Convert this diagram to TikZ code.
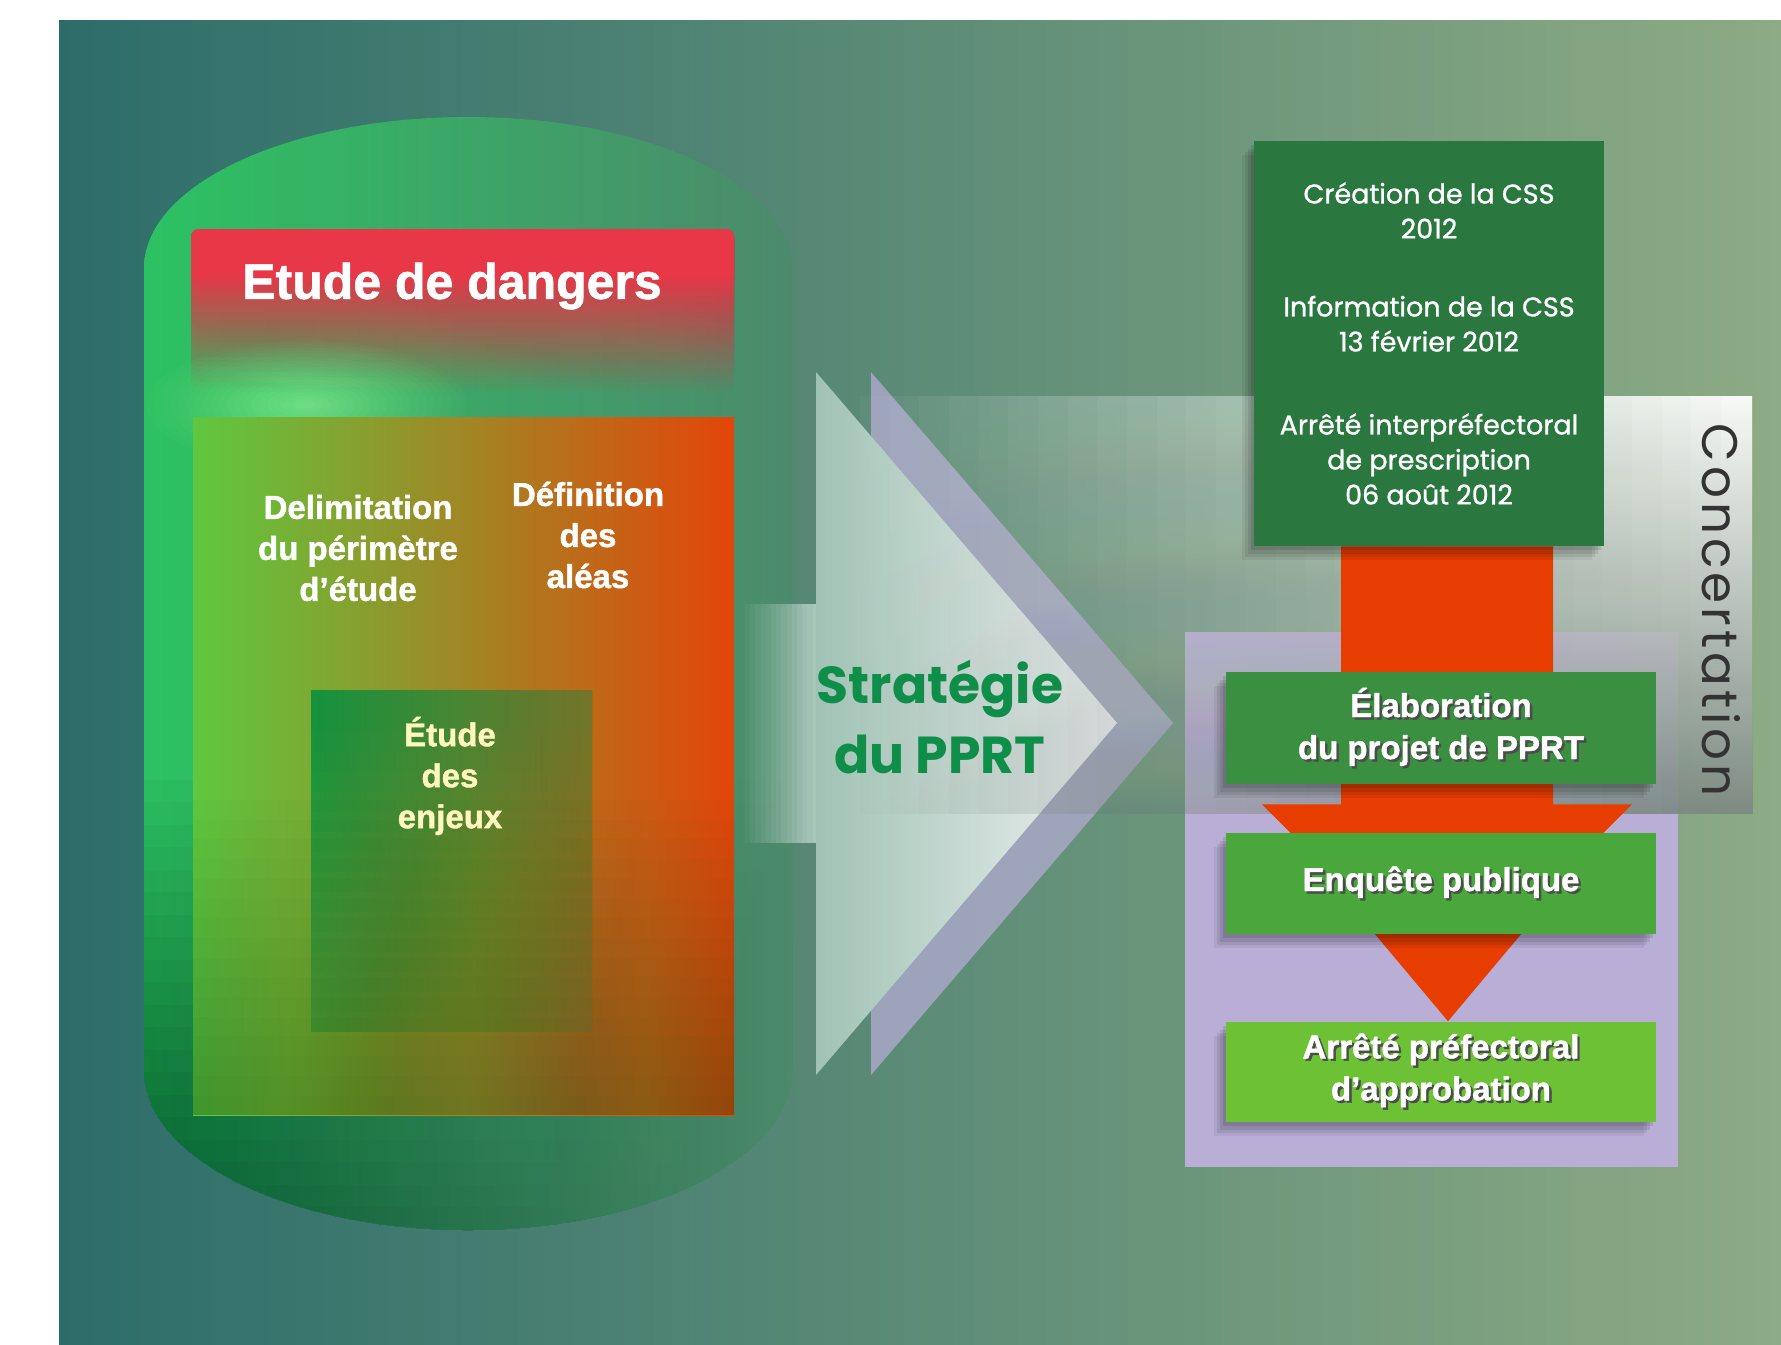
\documentclass[tikz,border=0pt]{standalone}
\usepackage{fontspec}
\setmainfont{Liberation Sans}
\newfontfamily\heavyfont[BoldFeatures={FakeBold=1.3}]{Liberation Sans}
\newfontfamily\geofont{Poppins}
\newfontfamily\cssfont[FakeBold=1]{Poppins}
\newfontfamily\concfont[LetterSpace=8]{Poppins}
\usetikzlibrary{calc,positioning,shadows}

\definecolor{bgleft}{HTML}{2C6D6A}
\definecolor{bgright}{HTML}{8DAB84}
\definecolor{capgreen}{HTML}{2CC262}
\definecolor{capright}{HTML}{4C8A6C}
\definecolor{capdark}{HTML}{00562A}
\definecolor{dangred}{HTML}{E83848}
\definecolor{glowgreen}{HTML}{7CEC8E}
\definecolor{boxleft}{HTML}{5EC83F}
\definecolor{boxmid}{HTML}{A08A28}
\definecolor{boxright}{HTML}{E3450A}
\definecolor{boxdark}{HTML}{1E5A20}
\definecolor{enjleft}{HTML}{0A9242}
\definecolor{enjright}{HTML}{6C7A2E}
\definecolor{enjtext}{HTML}{FFF7BE}
\definecolor{tribackc}{HTML}{A9A8C6}
\definecolor{triface}{HTML}{B4D0C4}
\definecolor{trileft}{HTML}{A0C2B4}
\definecolor{triright}{HTML}{F0F2F3}
\definecolor{stratgreen}{HTML}{0E8E48}
\definecolor{lavender}{HTML}{B9AED6}
\definecolor{bandlow}{HTML}{7D8A84}
\definecolor{conctext}{HTML}{333333}
\definecolor{cssgreen}{HTML}{2A783F}
\definecolor{flow}{HTML}{E73D00}
\definecolor{elabgreen}{HTML}{3A9040}
\definecolor{enqgreen}{HTML}{4AA73C}
\definecolor{arrgreen}{HTML}{6CC234}

\pgfdeclarelayer{front}
\pgfsetlayers{main,front}

\tikzset{
  titletxt/.style  = {text=white, font=\heavyfont\bfseries\fontsize{25}{30}\selectfont},
  zonetxt/.style   = {text=white, font=\heavyfont\bfseries\fontsize{16.5}{20.5}\selectfont, align=center},
  strattxt/.style  = {text=stratgreen, font=\geofont\bfseries\fontsize{26}{35}\selectfont, align=center},
  boxshadow/.style = {drop shadow={shadow xshift=-1.5pt, shadow yshift=-2pt, fill=black, opacity=.10},
                      drop shadow={shadow xshift=-3pt, shadow yshift=-4pt, fill=black, opacity=.09},
                      drop shadow={shadow xshift=-4.5pt, shadow yshift=-5.5pt, fill=black, opacity=.08},
                      drop shadow={shadow xshift=-6pt, shadow yshift=-7pt, fill=black, opacity=.06}},
  cssbox/.style    = {boxshadow, fill=cssgreen, text=white, minimum width=175pt, minimum height=202.5pt,
                      inner sep=0pt, align=center, font=\cssfont\fontsize{13.5}{17.5}\selectfont},
  stepbox/.style   = {boxshadow, text=white, minimum width=215pt, inner sep=0pt, align=center,
                      font=\heavyfont\bfseries\fontsize{16.5}{21}\selectfont},
  conctxt/.style   = {text=conctext, font=\concfont\fontsize{25}{25}\selectfont},
  flowarrow/.style = {fill=flow, draw=none},
}

\newcommand\shtxt[1]{\leavevmode\rlap{\kern1.2pt\raisebox{-1.2pt}{\color{black!70}#1}}#1}
\newcommand\capsulepath{(144,268) -- (144,1070)
  arc[start angle=180, end angle=0, x radius=324, y radius=160] -- (792,268)
  arc[start angle=0, end angle=-180, x radius=324, y radius=151] -- cycle}

\begin{document}
\begin{tikzpicture}[x=0.5pt, y=-0.5pt]
\useasboundingbox (0,0) rectangle (1781,1344);
\fill[white] (0,0) rectangle (1781,1344);
\shade[left color=bgleft, right color=bgright] (59,20) rectangle (1781,1344);

% capsule
\shade[left color=capgreen, right color=capright] \capsulepath;
\begin{scope}
  \clip \capsulepath;
  \foreach \s [evaluate=\s as \op using {.9/(20-.9*(\s-1))}] in {1,...,20}
    \shade[left color=capdark, middle color=capdark!70!capright, right color=capright, opacity=\op]
      (144,{780+(\s-1)*22.5}) rectangle (793,1232);
  \foreach \s [evaluate=\s as \op using {1/(25-\s)}] in {1,...,24}
    \fill[dangred, rounded corners=4pt, opacity=\op] (191,229) rectangle (734,{392-(\s-1)*5});
  \foreach \s [evaluate=\s as \op using {.8/(20-.8*(\s-1))},
               evaluate=\s as \rx using {8*(21-\s)}, evaluate=\s as \ry using {3.2*(21-\s)}] in {1,...,20}
    \fill[glowgreen, opacity=\op] (307,405) ellipse [x radius=\rx, y radius=\ry];
\end{scope}
\shade[left color=boxleft, middle color=boxmid, right color=boxright] (193,417) rectangle (734,1115);
\shade[left color=enjleft, right color=enjright, opacity=.35] (311,690) rectangle (592,1031);
\foreach \s [evaluate=\s as \op using {.8/(16-.8*(\s-1))}] in {1,...,16}
  \shade[left color=enjleft, right color=enjright, opacity=\op] (311,690) rectangle (592,{1031-(\s-1)*20});
\foreach \s [evaluate=\s as \op using {.35/(16-.35*(\s-1))}] in {1,...,16}
  \fill[boxdark, opacity=\op] (193,{800+(\s-1)*19.7}) rectangle (734,1115);

% arrow and band
\fill[lavender] (1185,632) rectangle (1678,1167);
\fill[tribackc, opacity=.85] (871,372) -- (1173,723) -- (871,1075) -- cycle;
\foreach \s [evaluate=\s as \op using {.9/(14-.9*(\s-1))}] in {1,...,14}
  \fill[triface, opacity=\op] ({745+(\s-1)*5.2},604) rectangle (817,843);
\shade[left color=trileft, right color=triright] (816,372) -- (1117,723) -- (816,1075) -- cycle;
\foreach \s [evaluate=\s as \op using {.95/(30-.95*(\s-1))}] in {1,...,30}
  \shade[top color=white, bottom color=bandlow, opacity=\op] ({860+(\s-1)*29.7},396) rectangle (1752,813);

\node[titletxt] (title) at (452,286) {Etude de dangers};
\node[zonetxt] (delim) at (358,548) {Delimitation\\du périmètre\\d’étude};
\node[zonetxt] (alea) at (588,535) {Définition\\des\\aléas};
\node[zonetxt, text=enjtext] (enjeux) at (450,776) {Étude\\des\\enjeux};
\node[strattxt] (strat) at (940,717) {Stratégie\\du PPRT};
\node[conctxt, rotate=-90] (conc) at (1721,610) {Concertation};

\begin{pgfonlayer}{front}
\node[cssbox] (css) at (1429,343.5) {Création de la CSS\\2012\\[21.5pt]
  Information de la CSS\\13 février 2012\\[24pt]
  Arrêté interpréfectoral\\de prescription\\06 août 2012};
\node[stepbox, fill=elabgreen, minimum height=56pt] (elab) at (1441,728)
  {\shtxt{Élaboration}\\\shtxt{du projet de PPRT}};
\node[stepbox, fill=enqgreen, minimum height=50.5pt, below=24pt of elab] (enq)
  {\shtxt{Enquête publique}};
\node[stepbox, fill=arrgreen, minimum height=50pt, below=43.5pt of enq] (arr)
  {\shtxt{Arrêté préfectoral}\\\shtxt{d’approbation}};
\end{pgfonlayer}

\fill[flowarrow] (css.south) ++(-88,0) -- ++(212,0) -- ++(0,258) -- ++(79,0)
  -- ++(-185,185) -- ++(-185,-185) -- ++(79,0) -- cycle;
\fill[flowarrow] (enq.south) ++(-66,0) -- ++(146,0) -- ($(arr.north)+(7,0)$) -- cycle;
\end{tikzpicture}
\end{document}
